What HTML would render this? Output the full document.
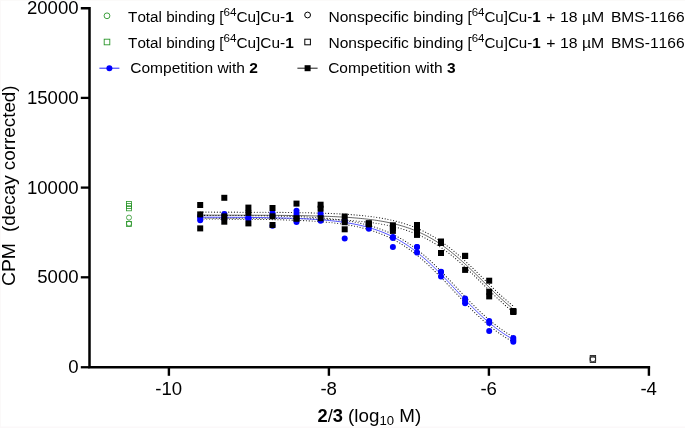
<!DOCTYPE html><html><head><meta charset="utf-8"><style>html,body{margin:0;padding:0;background:#fff}body{width:685px;height:428px;overflow:hidden}</style></head><body><svg width="685" height="428" viewBox="0 0 685 428" style="display:block;will-change:transform;font-kerning:none;-webkit-font-smoothing:antialiased" font-family="Liberation Sans, sans-serif">
<rect width="685" height="428" fill="#fff"/>
<path d="M0 0.5H685" stroke="#fbfaf9" stroke-width="1"/><path d="M0.5 0V428" stroke="#fbf9f9" stroke-width="1"/><path d="M0 427.3H685" stroke="#fbf8f9" stroke-width="1.4"/>
<path d="M200.21 215.40 L202.17 215.41 L204.12 215.41 L206.08 215.42 L208.04 215.42 L209.99 215.43 L211.95 215.43 L213.91 215.44 L215.86 215.45 L217.82 215.45 L219.78 215.46 L221.73 215.47 L223.69 215.48 L225.65 215.49 L227.60 215.49 L229.56 215.50 L231.52 215.52 L233.48 215.53 L235.43 215.54 L237.39 215.55 L239.35 215.56 L241.30 215.58 L243.26 215.59 L245.22 215.61 L247.17 215.62 L249.13 215.64 L251.09 215.66 L253.04 215.68 L255.00 215.70 L256.96 215.72 L258.91 215.75 L260.87 215.77 L262.83 215.80 L264.78 215.83 L266.74 215.85 L268.70 215.89 L270.65 215.92 L272.61 215.95 L274.57 215.99 L276.52 216.03 L278.48 216.07 L280.44 216.12 L282.39 216.16 L284.35 216.21 L286.31 216.26 L288.26 216.32 L290.22 216.38 L292.18 216.44 L294.13 216.50 L296.09 216.57 L298.05 216.65 L300.00 216.72 L301.96 216.81 L303.92 216.89 L305.87 216.99 L307.83 217.08 L309.79 217.19 L311.74 217.30 L313.70 217.41 L315.66 217.53 L317.61 217.66 L319.57 217.80 L321.53 217.94 L323.48 218.10 L325.44 218.26 L327.40 218.43 L329.35 218.61 L331.31 218.80 L333.27 219.00 L335.22 219.21 L337.18 219.44 L339.14 219.68 L341.09 219.93 L343.05 220.19 L345.01 220.47 L346.96 220.76 L348.92 221.08 L350.88 221.40 L352.83 221.75 L354.79 222.11 L356.75 222.50 L358.70 222.90 L360.66 223.33 L362.62 223.78 L364.57 224.25 L366.53 224.74 L368.49 225.27 L370.44 225.81 L372.40 226.39 L374.36 227.00 L376.31 227.63 L378.27 228.30 L380.23 229.00 L382.18 229.73 L384.14 230.50 L386.10 231.30 L388.05 232.14 L390.01 233.02 L391.97 233.94 L393.92 234.90 L395.88 235.90 L397.84 236.94 L399.79 238.02 L401.75 239.15 L403.71 240.32 L405.66 241.54 L407.62 242.81 L409.58 244.12 L411.53 245.47 L413.49 246.88 L415.45 248.33 L417.40 249.82 L419.36 251.36 L421.32 252.95 L423.27 254.58 L425.23 256.26 L427.19 257.97 L429.14 259.73 L431.10 261.53 L433.06 263.37 L435.01 265.24 L436.97 267.15 L438.93 269.09 L440.88 271.07 L442.84 273.08 L444.80 275.11 L446.75 277.16 L448.71 279.22 L450.67 281.29 L452.62 283.37 L454.58 285.46 L456.54 287.54 L458.49 289.63 L460.45 291.71 L462.41 293.78 L464.37 295.83 L466.32 297.88 L468.28 299.90 L470.24 301.90 L472.19 303.88 L474.15 305.84 L476.11 307.78 L478.06 309.68 L480.02 311.56 L481.98 313.40 L483.93 315.19 L485.89 316.96 L487.85 318.67 L489.80 320.35 L491.76 321.98 L493.72 323.57 L495.67 325.12 L497.63 326.61 L499.59 328.07 L501.54 329.47 L503.50 330.83 L505.46 332.14 L507.41 333.41 L509.37 334.63 L511.33 335.80 L513.28 336.93" fill="none" stroke="#000" stroke-width="1.1" stroke-linecap="round" stroke-dasharray="0.1 2.75" stroke-dashoffset="1.4" opacity="0.9"/>
<path d="M200.21 219.01 L202.17 219.01 L204.12 219.02 L206.08 219.02 L208.04 219.03 L209.99 219.04 L211.95 219.04 L213.91 219.05 L215.86 219.06 L217.82 219.06 L219.78 219.07 L221.73 219.08 L223.69 219.09 L225.65 219.10 L227.60 219.11 L229.56 219.12 L231.52 219.13 L233.48 219.14 L235.43 219.15 L237.39 219.17 L239.35 219.18 L241.30 219.20 L243.26 219.21 L245.22 219.23 L247.17 219.25 L249.13 219.27 L251.09 219.29 L253.04 219.31 L255.00 219.33 L256.96 219.35 L258.91 219.38 L260.87 219.41 L262.83 219.43 L264.78 219.46 L266.74 219.50 L268.70 219.53 L270.65 219.57 L272.61 219.60 L274.57 219.64 L276.52 219.69 L278.48 219.73 L280.44 219.78 L282.39 219.83 L284.35 219.88 L286.31 219.94 L288.26 220.00 L290.22 220.06 L292.18 220.13 L294.13 220.20 L296.09 220.27 L298.05 220.35 L300.00 220.44 L301.96 220.52 L303.92 220.62 L305.87 220.72 L307.83 220.82 L309.79 220.93 L311.74 221.05 L313.70 221.18 L315.66 221.31 L317.61 221.45 L319.57 221.59 L321.53 221.75 L323.48 221.91 L325.44 222.09 L327.40 222.27 L329.35 222.46 L331.31 222.67 L333.27 222.89 L335.22 223.12 L337.18 223.36 L339.14 223.61 L341.09 223.88 L343.05 224.17 L345.01 224.47 L346.96 224.78 L348.92 225.11 L350.88 225.47 L352.83 225.84 L354.79 226.23 L356.75 226.64 L358.70 227.07 L360.66 227.53 L362.62 228.01 L364.57 228.51 L366.53 229.04 L368.49 229.60 L370.44 230.19 L372.40 230.80 L374.36 231.45 L376.31 232.13 L378.27 232.84 L380.23 233.58 L382.18 234.36 L384.14 235.17 L386.10 236.03 L388.05 236.92 L390.01 237.85 L391.97 238.82 L393.92 239.83 L395.88 240.89 L397.84 241.99 L399.79 243.13 L401.75 244.32 L403.71 245.55 L405.66 246.83 L407.62 248.16 L409.58 249.53 L411.53 250.95 L413.49 252.41 L415.45 253.92 L417.40 255.48 L419.36 257.08 L421.32 258.73 L423.27 260.42 L425.23 262.15 L427.19 263.92 L429.14 265.73 L431.10 267.58 L433.06 269.46 L435.01 271.38 L436.97 273.33 L438.93 275.29 L440.88 277.27 L442.84 279.28 L444.80 281.31 L446.75 283.36 L448.71 285.42 L450.67 287.49 L452.62 289.57 L454.58 291.66 L456.54 293.74 L458.49 295.83 L460.45 297.91 L462.41 299.98 L464.37 302.03 L466.32 304.08 L468.28 306.10 L470.24 308.10 L472.19 310.08 L474.15 312.01 L476.11 313.90 L478.06 315.77 L480.02 317.59 L481.98 319.38 L483.93 321.12 L485.89 322.83 L487.85 324.49 L489.80 326.11 L491.76 327.69 L493.72 329.21 L495.67 330.70 L497.63 332.13 L499.59 333.52 L501.54 334.87 L503.50 336.16 L505.46 337.41 L507.41 338.62 L509.37 339.78 L511.33 340.90 L513.28 341.97" fill="none" stroke="#000" stroke-width="1.1" stroke-linecap="round" stroke-dasharray="0.1 2.75" stroke-dashoffset="2.1" opacity="0.9"/>
<path d="M200.21 212.11 L202.17 212.11 L204.12 212.12 L206.08 212.12 L208.04 212.12 L209.99 212.12 L211.95 212.12 L213.91 212.13 L215.86 212.13 L217.82 212.13 L219.78 212.14 L221.73 212.14 L223.69 212.14 L225.65 212.14 L227.60 212.15 L229.56 212.15 L231.52 212.16 L233.48 212.16 L235.43 212.17 L237.39 212.17 L239.35 212.18 L241.30 212.18 L243.26 212.19 L245.22 212.19 L247.17 212.20 L249.13 212.21 L251.09 212.21 L253.04 212.22 L255.00 212.23 L256.96 212.24 L258.91 212.25 L260.87 212.26 L262.83 212.27 L264.78 212.28 L266.74 212.29 L268.70 212.30 L270.65 212.32 L272.61 212.33 L274.57 212.35 L276.52 212.36 L278.48 212.38 L280.44 212.40 L282.39 212.41 L284.35 212.43 L286.31 212.46 L288.26 212.48 L290.22 212.50 L292.18 212.53 L294.13 212.55 L296.09 212.58 L298.05 212.61 L300.00 212.64 L301.96 212.68 L303.92 212.71 L305.87 212.75 L307.83 212.79 L309.79 212.83 L311.74 212.88 L313.70 212.92 L315.66 212.97 L317.61 213.03 L319.57 213.08 L321.53 213.14 L323.48 213.21 L325.44 213.27 L327.40 213.34 L329.35 213.42 L331.31 213.50 L333.27 213.58 L335.22 213.67 L337.18 213.77 L339.14 213.87 L341.09 213.97 L343.05 214.08 L345.01 214.20 L346.96 214.33 L348.92 214.46 L350.88 214.60 L352.83 214.75 L354.79 214.91 L356.75 215.07 L358.70 215.25 L360.66 215.43 L362.62 215.63 L364.57 215.84 L366.53 216.06 L368.49 216.29 L370.44 216.53 L372.40 216.79 L374.36 217.06 L376.31 217.35 L378.27 217.65 L380.23 217.97 L382.18 218.31 L384.14 218.67 L386.10 219.04 L388.05 219.44 L390.01 219.86 L391.97 220.29 L393.92 220.76 L395.88 221.24 L397.84 221.75 L399.79 222.29 L401.75 222.85 L403.71 223.45 L405.66 224.07 L407.62 224.72 L409.58 225.40 L411.53 226.12 L413.49 226.87 L415.45 227.66 L417.40 228.48 L419.36 229.33 L421.32 230.23 L423.27 231.16 L425.23 232.14 L427.19 233.15 L429.14 234.21 L431.10 235.30 L433.06 236.44 L435.01 237.63 L436.97 238.85 L438.93 240.12 L440.88 241.43 L442.84 242.79 L444.80 244.19 L446.75 245.63 L448.71 247.11 L450.67 248.63 L452.62 250.20 L454.58 251.80 L456.54 253.44 L458.49 255.12 L460.45 256.83 L462.41 258.57 L464.37 260.34 L466.32 262.15 L468.28 263.97 L470.24 265.82 L472.19 267.69 L474.15 269.58 L476.11 271.48 L478.06 273.39 L480.02 275.31 L481.98 277.24 L483.93 279.16 L485.89 281.08 L487.85 283.00 L489.80 284.91 L491.76 286.81 L493.72 288.69 L495.67 290.56 L497.63 292.40 L499.59 294.23 L501.54 296.02 L503.50 297.79 L505.46 299.52 L507.41 301.23 L509.37 302.89 L511.33 304.53 L513.28 306.12" fill="none" stroke="#000" stroke-width="1.1" stroke-linecap="round" stroke-dasharray="0.1 2.75" stroke-dashoffset="0.0" opacity="0.9"/>
<path d="M200.21 218.11 L202.17 218.11 L204.12 218.12 L206.08 218.12 L208.04 218.12 L209.99 218.12 L211.95 218.12 L213.91 218.13 L215.86 218.13 L217.82 218.13 L219.78 218.14 L221.73 218.14 L223.69 218.14 L225.65 218.14 L227.60 218.15 L229.56 218.15 L231.52 218.16 L233.48 218.16 L235.43 218.17 L237.39 218.17 L239.35 218.18 L241.30 218.18 L243.26 218.19 L245.22 218.19 L247.17 218.20 L249.13 218.21 L251.09 218.21 L253.04 218.22 L255.00 218.23 L256.96 218.24 L258.91 218.25 L260.87 218.26 L262.83 218.27 L264.78 218.28 L266.74 218.29 L268.70 218.30 L270.65 218.32 L272.61 218.33 L274.57 218.35 L276.52 218.36 L278.48 218.38 L280.44 218.40 L282.39 218.41 L284.35 218.43 L286.31 218.46 L288.26 218.48 L290.22 218.50 L292.18 218.53 L294.13 218.55 L296.09 218.58 L298.05 218.61 L300.00 218.64 L301.96 218.68 L303.92 218.71 L305.87 218.75 L307.83 218.79 L309.79 218.83 L311.74 218.88 L313.70 218.92 L315.66 218.97 L317.61 219.03 L319.57 219.08 L321.53 219.14 L323.48 219.21 L325.44 219.27 L327.40 219.34 L329.35 219.42 L331.31 219.50 L333.27 219.58 L335.22 219.67 L337.18 219.77 L339.14 219.87 L341.09 219.97 L343.05 220.08 L345.01 220.20 L346.96 220.33 L348.92 220.46 L350.88 220.60 L352.83 220.75 L354.79 220.91 L356.75 221.07 L358.70 221.25 L360.66 221.43 L362.62 221.63 L364.57 221.84 L366.53 222.06 L368.49 222.29 L370.44 222.53 L372.40 222.79 L374.36 223.06 L376.31 223.35 L378.27 223.65 L380.23 223.97 L382.18 224.31 L384.14 224.67 L386.10 225.04 L388.05 225.44 L390.01 225.86 L391.97 226.29 L393.92 226.76 L395.88 227.24 L397.84 227.75 L399.79 228.29 L401.75 228.85 L403.71 229.45 L405.66 230.07 L407.62 230.72 L409.58 231.40 L411.53 232.12 L413.49 232.87 L415.45 233.66 L417.40 234.48 L419.36 235.33 L421.32 236.23 L423.27 237.16 L425.23 238.14 L427.19 239.15 L429.14 240.21 L431.10 241.30 L433.06 242.44 L435.01 243.63 L436.97 244.85 L438.93 246.12 L440.88 247.43 L442.84 248.79 L444.80 250.19 L446.75 251.63 L448.71 253.11 L450.67 254.63 L452.62 256.20 L454.58 257.80 L456.54 259.44 L458.49 261.12 L460.45 262.83 L462.41 264.57 L464.37 266.34 L466.32 268.15 L468.28 269.97 L470.24 271.82 L472.19 273.69 L474.15 275.58 L476.11 277.48 L478.06 279.39 L480.02 281.31 L481.98 283.24 L483.93 285.16 L485.89 287.08 L487.85 289.00 L489.80 290.91 L491.76 292.81 L493.72 294.69 L495.67 296.56 L497.63 298.40 L499.59 300.23 L501.54 302.02 L503.50 303.79 L505.46 305.52 L507.41 307.23 L509.37 308.89 L511.33 310.53 L513.28 312.12" fill="none" stroke="#000" stroke-width="1.1" stroke-linecap="round" stroke-dasharray="0.1 2.75" stroke-dashoffset="0.7" opacity="0.9"/>
<path d="M200.21 217.21 L202.17 217.21 L204.12 217.22 L206.08 217.22 L208.04 217.23 L209.99 217.23 L211.95 217.24 L213.91 217.24 L215.86 217.25 L217.82 217.26 L219.78 217.27 L221.73 217.27 L223.69 217.28 L225.65 217.29 L227.60 217.30 L229.56 217.31 L231.52 217.32 L233.48 217.33 L235.43 217.35 L237.39 217.36 L239.35 217.37 L241.30 217.39 L243.26 217.40 L245.22 217.42 L247.17 217.44 L249.13 217.45 L251.09 217.47 L253.04 217.49 L255.00 217.52 L256.96 217.54 L258.91 217.56 L260.87 217.59 L262.83 217.62 L264.78 217.64 L266.74 217.68 L268.70 217.71 L270.65 217.74 L272.61 217.78 L274.57 217.82 L276.52 217.86 L278.48 217.90 L280.44 217.95 L282.39 217.99 L284.35 218.05 L286.31 218.10 L288.26 218.16 L290.22 218.22 L292.18 218.28 L294.13 218.35 L296.09 218.42 L298.05 218.50 L300.00 218.58 L301.96 218.67 L303.92 218.76 L305.87 218.85 L307.83 218.95 L309.79 219.06 L311.74 219.17 L313.70 219.29 L315.66 219.42 L317.61 219.55 L319.57 219.70 L321.53 219.85 L323.48 220.00 L325.44 220.17 L327.40 220.35 L329.35 220.54 L331.31 220.73 L333.27 220.94 L335.22 221.16 L337.18 221.40 L339.14 221.64 L341.09 221.90 L343.05 222.18 L345.01 222.47 L346.96 222.77 L348.92 223.10 L350.88 223.43 L352.83 223.79 L354.79 224.17 L356.75 224.57 L358.70 224.99 L360.66 225.43 L362.62 225.89 L364.57 226.38 L366.53 226.89 L368.49 227.43 L370.44 228.00 L372.40 228.60 L374.36 229.22 L376.31 229.88 L378.27 230.57 L380.23 231.29 L382.18 232.05 L384.14 232.84 L386.10 233.67 L388.05 234.53 L390.01 235.44 L391.97 236.38 L393.92 237.37 L395.88 238.39 L397.84 239.46 L399.79 240.58 L401.75 241.74 L403.71 242.94 L405.66 244.19 L407.62 245.48 L409.58 246.82 L411.53 248.21 L413.49 249.64 L415.45 251.12 L417.40 252.65 L419.36 254.22 L421.32 255.84 L423.27 257.50 L425.23 259.20 L427.19 260.95 L429.14 262.73 L431.10 264.56 L433.06 266.41 L435.01 268.31 L436.97 270.24 L438.93 272.19 L440.88 274.17 L442.84 276.18 L444.80 278.21 L446.75 280.26 L448.71 282.32 L450.67 284.39 L452.62 286.47 L454.58 288.56 L456.54 290.64 L458.49 292.73 L460.45 294.81 L462.41 296.88 L464.37 298.93 L466.32 300.98 L468.28 303.00 L470.24 305.00 L472.19 306.98 L474.15 308.92 L476.11 310.84 L478.06 312.72 L480.02 314.57 L481.98 316.39 L483.93 318.16 L485.89 319.89 L487.85 321.58 L489.80 323.23 L491.76 324.84 L493.72 326.39 L495.67 327.91 L497.63 329.37 L499.59 330.79 L501.54 332.17 L503.50 333.50 L505.46 334.78 L507.41 336.01 L509.37 337.20 L511.33 338.35 L513.28 339.45" fill="none" stroke="#3030ff" stroke-width="0.85"/>
<path d="M200.21 215.11 L202.17 215.11 L204.12 215.12 L206.08 215.12 L208.04 215.12 L209.99 215.12 L211.95 215.12 L213.91 215.13 L215.86 215.13 L217.82 215.13 L219.78 215.14 L221.73 215.14 L223.69 215.14 L225.65 215.14 L227.60 215.15 L229.56 215.15 L231.52 215.16 L233.48 215.16 L235.43 215.17 L237.39 215.17 L239.35 215.18 L241.30 215.18 L243.26 215.19 L245.22 215.19 L247.17 215.20 L249.13 215.21 L251.09 215.21 L253.04 215.22 L255.00 215.23 L256.96 215.24 L258.91 215.25 L260.87 215.26 L262.83 215.27 L264.78 215.28 L266.74 215.29 L268.70 215.30 L270.65 215.32 L272.61 215.33 L274.57 215.35 L276.52 215.36 L278.48 215.38 L280.44 215.40 L282.39 215.41 L284.35 215.43 L286.31 215.46 L288.26 215.48 L290.22 215.50 L292.18 215.53 L294.13 215.55 L296.09 215.58 L298.05 215.61 L300.00 215.64 L301.96 215.68 L303.92 215.71 L305.87 215.75 L307.83 215.79 L309.79 215.83 L311.74 215.88 L313.70 215.92 L315.66 215.97 L317.61 216.03 L319.57 216.08 L321.53 216.14 L323.48 216.21 L325.44 216.27 L327.40 216.34 L329.35 216.42 L331.31 216.50 L333.27 216.58 L335.22 216.67 L337.18 216.77 L339.14 216.87 L341.09 216.97 L343.05 217.08 L345.01 217.20 L346.96 217.33 L348.92 217.46 L350.88 217.60 L352.83 217.75 L354.79 217.91 L356.75 218.07 L358.70 218.25 L360.66 218.43 L362.62 218.63 L364.57 218.84 L366.53 219.06 L368.49 219.29 L370.44 219.53 L372.40 219.79 L374.36 220.06 L376.31 220.35 L378.27 220.65 L380.23 220.97 L382.18 221.31 L384.14 221.67 L386.10 222.04 L388.05 222.44 L390.01 222.86 L391.97 223.29 L393.92 223.76 L395.88 224.24 L397.84 224.75 L399.79 225.29 L401.75 225.85 L403.71 226.45 L405.66 227.07 L407.62 227.72 L409.58 228.40 L411.53 229.12 L413.49 229.87 L415.45 230.66 L417.40 231.48 L419.36 232.33 L421.32 233.23 L423.27 234.16 L425.23 235.14 L427.19 236.15 L429.14 237.21 L431.10 238.30 L433.06 239.44 L435.01 240.63 L436.97 241.85 L438.93 243.12 L440.88 244.43 L442.84 245.79 L444.80 247.19 L446.75 248.63 L448.71 250.11 L450.67 251.63 L452.62 253.20 L454.58 254.80 L456.54 256.44 L458.49 258.12 L460.45 259.83 L462.41 261.57 L464.37 263.34 L466.32 265.15 L468.28 266.97 L470.24 268.82 L472.19 270.69 L474.15 272.58 L476.11 274.48 L478.06 276.39 L480.02 278.31 L481.98 280.24 L483.93 282.16 L485.89 284.08 L487.85 286.00 L489.80 287.91 L491.76 289.81 L493.72 291.69 L495.67 293.56 L497.63 295.40 L499.59 297.23 L501.54 299.02 L503.50 300.79 L505.46 302.52 L507.41 304.23 L509.37 305.89 L511.33 307.53 L513.28 309.12" fill="none" stroke="#000" stroke-width="0.75" opacity="0.8"/>
<circle cx="200.2" cy="220.3" r="3" fill="#0000ff"/>
<circle cx="200.2" cy="218.0" r="3" fill="#0000ff"/>
<circle cx="200.2" cy="216.0" r="3" fill="#0000ff"/>
<circle cx="224.3" cy="214.0" r="3" fill="#0000ff"/>
<circle cx="224.3" cy="217.0" r="3" fill="#0000ff"/>
<circle cx="224.3" cy="219.0" r="3" fill="#0000ff"/>
<circle cx="248.4" cy="218.3" r="3" fill="#0000ff"/>
<circle cx="248.4" cy="217.0" r="3" fill="#0000ff"/>
<circle cx="248.4" cy="219.0" r="3" fill="#0000ff"/>
<circle cx="272.5" cy="213.0" r="3" fill="#0000ff"/>
<circle cx="272.5" cy="216.0" r="3" fill="#0000ff"/>
<circle cx="272.5" cy="225.8" r="3" fill="#0000ff"/>
<circle cx="296.5" cy="210.8" r="3" fill="#0000ff"/>
<circle cx="296.5" cy="214.0" r="3" fill="#0000ff"/>
<circle cx="296.5" cy="222.0" r="3" fill="#0000ff"/>
<circle cx="320.6" cy="213.4" r="3" fill="#0000ff"/>
<circle cx="320.6" cy="216.0" r="3" fill="#0000ff"/>
<circle cx="320.6" cy="220.8" r="3" fill="#0000ff"/>
<circle cx="344.7" cy="238.6" r="3" fill="#0000ff"/>
<circle cx="344.7" cy="221.0" r="3" fill="#0000ff"/>
<circle cx="344.7" cy="222.0" r="3" fill="#0000ff"/>
<circle cx="368.8" cy="228.7" r="3" fill="#0000ff"/>
<circle cx="368.8" cy="226.0" r="3" fill="#0000ff"/>
<circle cx="368.8" cy="225.0" r="3" fill="#0000ff"/>
<circle cx="392.9" cy="237.1" r="3" fill="#0000ff"/>
<circle cx="392.9" cy="247.0" r="3" fill="#0000ff"/>
<circle cx="392.9" cy="238.0" r="3" fill="#0000ff"/>
<circle cx="417.0" cy="247.1" r="3" fill="#0000ff"/>
<circle cx="417.0" cy="252.5" r="3" fill="#0000ff"/>
<circle cx="417.0" cy="247.1" r="3" fill="#0000ff"/>
<circle cx="441.0" cy="271.8" r="3" fill="#0000ff"/>
<circle cx="441.0" cy="276.4" r="3" fill="#0000ff"/>
<circle cx="441.0" cy="272.0" r="3" fill="#0000ff"/>
<circle cx="465.1" cy="298.4" r="3" fill="#0000ff"/>
<circle cx="465.1" cy="303.2" r="3" fill="#0000ff"/>
<circle cx="465.1" cy="301.0" r="3" fill="#0000ff"/>
<circle cx="489.2" cy="321.0" r="3" fill="#0000ff"/>
<circle cx="489.2" cy="323.0" r="3" fill="#0000ff"/>
<circle cx="489.2" cy="331.0" r="3" fill="#0000ff"/>
<circle cx="513.3" cy="338.0" r="3" fill="#0000ff"/>
<circle cx="513.3" cy="340.0" r="3" fill="#0000ff"/>
<circle cx="513.3" cy="341.8" r="3" fill="#0000ff"/>
<rect x="197.2" y="202.0" width="6" height="6" fill="#000"/>
<rect x="197.2" y="211.4" width="6" height="6" fill="#000"/>
<rect x="197.2" y="225.4" width="6" height="6" fill="#000"/>
<rect x="221.3" y="194.8" width="6" height="6" fill="#000"/>
<rect x="221.3" y="213.4" width="6" height="6" fill="#000"/>
<rect x="221.3" y="218.7" width="6" height="6" fill="#000"/>
<rect x="245.4" y="204.6" width="6" height="6" fill="#000"/>
<rect x="245.4" y="209.9" width="6" height="6" fill="#000"/>
<rect x="245.4" y="220.4" width="6" height="6" fill="#000"/>
<rect x="269.5" y="205.0" width="6" height="6" fill="#000"/>
<rect x="269.5" y="213.3" width="6" height="6" fill="#000"/>
<rect x="269.5" y="222.0" width="6" height="6" fill="#000"/>
<rect x="293.5" y="200.6" width="6" height="6" fill="#000"/>
<rect x="293.5" y="215.7" width="6" height="6" fill="#000"/>
<rect x="293.5" y="215.3" width="6" height="6" fill="#000"/>
<rect x="317.6" y="201.7" width="6" height="6" fill="#000"/>
<rect x="317.6" y="205.7" width="6" height="6" fill="#000"/>
<rect x="317.6" y="215.2" width="6" height="6" fill="#000"/>
<rect x="341.7" y="213.5" width="6" height="6" fill="#000"/>
<rect x="341.7" y="219.2" width="6" height="6" fill="#000"/>
<rect x="341.7" y="226.3" width="6" height="6" fill="#000"/>
<rect x="365.8" y="220.2" width="6" height="6" fill="#000"/>
<rect x="365.8" y="221.4" width="6" height="6" fill="#000"/>
<rect x="365.8" y="220.6" width="6" height="6" fill="#000"/>
<rect x="389.9" y="222.3" width="6" height="6" fill="#000"/>
<rect x="389.9" y="227.9" width="6" height="6" fill="#000"/>
<rect x="389.9" y="225.0" width="6" height="6" fill="#000"/>
<rect x="414.0" y="222.0" width="6" height="6" fill="#000"/>
<rect x="414.0" y="227.0" width="6" height="6" fill="#000"/>
<rect x="414.0" y="231.9" width="6" height="6" fill="#000"/>
<rect x="438.0" y="238.5" width="6" height="6" fill="#000"/>
<rect x="438.0" y="240.0" width="6" height="6" fill="#000"/>
<rect x="438.0" y="250.0" width="6" height="6" fill="#000"/>
<rect x="462.1" y="252.8" width="6" height="6" fill="#000"/>
<rect x="462.1" y="266.9" width="6" height="6" fill="#000"/>
<rect x="462.1" y="253.0" width="6" height="6" fill="#000"/>
<rect x="486.2" y="277.7" width="6" height="6" fill="#000"/>
<rect x="486.2" y="288.7" width="6" height="6" fill="#000"/>
<rect x="486.2" y="293.4" width="6" height="6" fill="#000"/>
<rect x="510.3" y="308.0" width="6" height="6" fill="#000"/>
<rect x="510.3" y="309.0" width="6" height="6" fill="#000"/>
<rect x="510.3" y="308.5" width="6" height="6" fill="#000"/>
<rect x="126.5" y="201.5" width="5" height="5" fill="none" stroke="#2a962a" stroke-width="0.8"/>
<rect x="126.5" y="203.6" width="5" height="5" fill="none" stroke="#2a962a" stroke-width="0.8"/>
<rect x="126.5" y="205.8" width="5" height="5" fill="none" stroke="#2a962a" stroke-width="0.8"/>
<rect x="126.5" y="221.4" width="5" height="5" fill="none" stroke="#2a962a" stroke-width="0.8"/>
<circle cx="129.0" cy="217.6" r="2.5" fill="none" stroke="#2a962a" stroke-width="0.8"/>
<circle cx="129.0" cy="223.6" r="2.5" fill="none" stroke="#2a962a" stroke-width="0.8"/>
<rect x="590.2" y="355.5" width="5.4" height="5.4" fill="#fff" stroke="#222" stroke-width="0.9"/>
<rect x="590.2" y="357.1" width="5.4" height="5.4" fill="#fff" stroke="#222" stroke-width="0.9"/>
<circle cx="592.9" cy="359.0" r="2.8" fill="none" stroke="#222" stroke-width="0.9"/>
<path d="M80.8 8.2H89.5V367.25H650.1" fill="none" stroke="#000" stroke-width="2.5" stroke-linejoin="miter"/>
<path d="M80.8 367.25H89.5" fill="none" stroke="#000" stroke-width="2.3"/>
<path d="M80.8 277.3H89.5" stroke="#000" stroke-width="2.3"/>
<path d="M80.8 187.6H89.5" stroke="#000" stroke-width="2.3"/>
<path d="M80.8 97.9H89.5" stroke="#000" stroke-width="2.3"/>
<path d="M168.90 366.5V375.8" stroke="#000" stroke-width="2.4"/>
<path d="M328.90 366.5V375.8" stroke="#000" stroke-width="2.4"/>
<path d="M488.90 366.5V375.8" stroke="#000" stroke-width="2.4"/>
<path d="M648.90 366.5V375.8" stroke="#000" stroke-width="2.4"/>
<text x="78.6" y="373.0" font-size="18.6" text-anchor="end">0</text>
<text x="78.6" y="283.3" font-size="18.6" text-anchor="end">5000</text>
<text x="78.6" y="193.6" font-size="18.6" text-anchor="end">10000</text>
<text x="78.6" y="103.9" font-size="18.6" text-anchor="end">15000</text>
<text x="78.6" y="14.2" font-size="18.6" text-anchor="end">20000</text>
<text x="168.7" y="394.8" font-size="18.6" text-anchor="middle">-10</text>
<text x="328.7" y="394.8" font-size="18.6" text-anchor="middle">-8</text>
<text x="488.7" y="394.8" font-size="18.6" text-anchor="middle">-6</text>
<text x="648.7" y="394.8" font-size="18.6" text-anchor="middle">-4</text>
<text transform="translate(15.2 286.1) rotate(-90) scale(1.02 1)" font-size="19">CPM</text>
<text transform="translate(15.2 231.9) rotate(-90) scale(0.992 1)" font-size="19">(decay corrected)</text>
<text transform="translate(128.09 21.60) scale(0.9946 1)" font-size="15.3" xml:space="preserve">Total binding</text>
<text transform="translate(219.14 21.60) scale(1.0075 1)" font-size="15.3" xml:space="preserve">[<tspan font-size="11.6" dy="-6">64</tspan><tspan dy="6">Cu]Cu-</tspan><tspan font-weight="bold">1</tspan></text>
<text transform="translate(328.38 21.60) scale(1.0185 1)" font-size="15.3" xml:space="preserve">Nonspecific binding</text>
<text transform="translate(467.43 21.60) scale(0.9894 1)" font-size="15.3" xml:space="preserve">[<tspan font-size="11.6" dy="-6">64</tspan><tspan dy="6">Cu]Cu-</tspan><tspan font-weight="bold">1</tspan></text>
<text transform="translate(546.30 21.60) scale(1.0339 1)" font-size="15.3" xml:space="preserve">+ 18 µM</text>
<text transform="translate(610.95 21.60) scale(1.0186 1)" font-size="15.3" xml:space="preserve">BMS-1166</text>
<text transform="translate(128.09 47.80) scale(0.9946 1)" font-size="15.3" xml:space="preserve">Total binding</text>
<text transform="translate(219.14 47.80) scale(1.0075 1)" font-size="15.3" xml:space="preserve">[<tspan font-size="11.6" dy="-6">64</tspan><tspan dy="6">Cu]Cu-</tspan><tspan font-weight="bold">1</tspan></text>
<text transform="translate(328.38 47.80) scale(1.0185 1)" font-size="15.3" xml:space="preserve">Nonspecific binding</text>
<text transform="translate(467.43 47.80) scale(0.9894 1)" font-size="15.3" xml:space="preserve">[<tspan font-size="11.6" dy="-6">64</tspan><tspan dy="6">Cu]Cu-</tspan><tspan font-weight="bold">1</tspan></text>
<text transform="translate(546.30 47.80) scale(1.0339 1)" font-size="15.3" xml:space="preserve">+ 18 µM</text>
<text transform="translate(610.95 47.80) scale(1.0186 1)" font-size="15.3" xml:space="preserve">BMS-1166</text>
<text transform="translate(130.21 73.20) scale(1.0163 1)" font-size="15.3" xml:space="preserve">Competition with <tspan font-weight="bold">2</tspan></text>
<text transform="translate(328.15 73.20) scale(1.0142 1)" font-size="15.3" xml:space="preserve">Competition with <tspan font-weight="bold">3</tspan></text>
<text transform="translate(317.46 421.90) scale(0.9829 1)" font-size="18.6" xml:space="preserve"><tspan font-weight="bold">2</tspan>/<tspan font-weight="bold">3</tspan></text>
<text transform="translate(348.11 421.90) scale(1.0108 1)" font-size="18.6" xml:space="preserve">(log<tspan font-size="13" dy="3.5">10</tspan><tspan dy="-3.5"> M)</tspan></text>
<circle cx="107" cy="15.8" r="2.9" fill="none" stroke="#2a962a" stroke-width="0.9"/>
<rect x="104.2" y="39.2" width="5.6" height="5.6" fill="none" stroke="#2a962a" stroke-width="0.9"/>
<circle cx="307.6" cy="15" r="2.9" fill="none" stroke="#000" stroke-width="1"/>
<rect x="304.8" y="39.2" width="5.6" height="5.6" fill="none" stroke="#000" stroke-width="1"/>
<path d="M99.4 68.2H119.4" stroke="#2222ff" stroke-width="1"/>
<circle cx="109.4" cy="68.2" r="3" fill="#0000ff"/>
<path d="M297.4 68.2H317.6" stroke="#000" stroke-width="0.9"/>
<rect x="304.6" y="65.2" width="6" height="6" fill="#000"/>
</svg></body></html>
